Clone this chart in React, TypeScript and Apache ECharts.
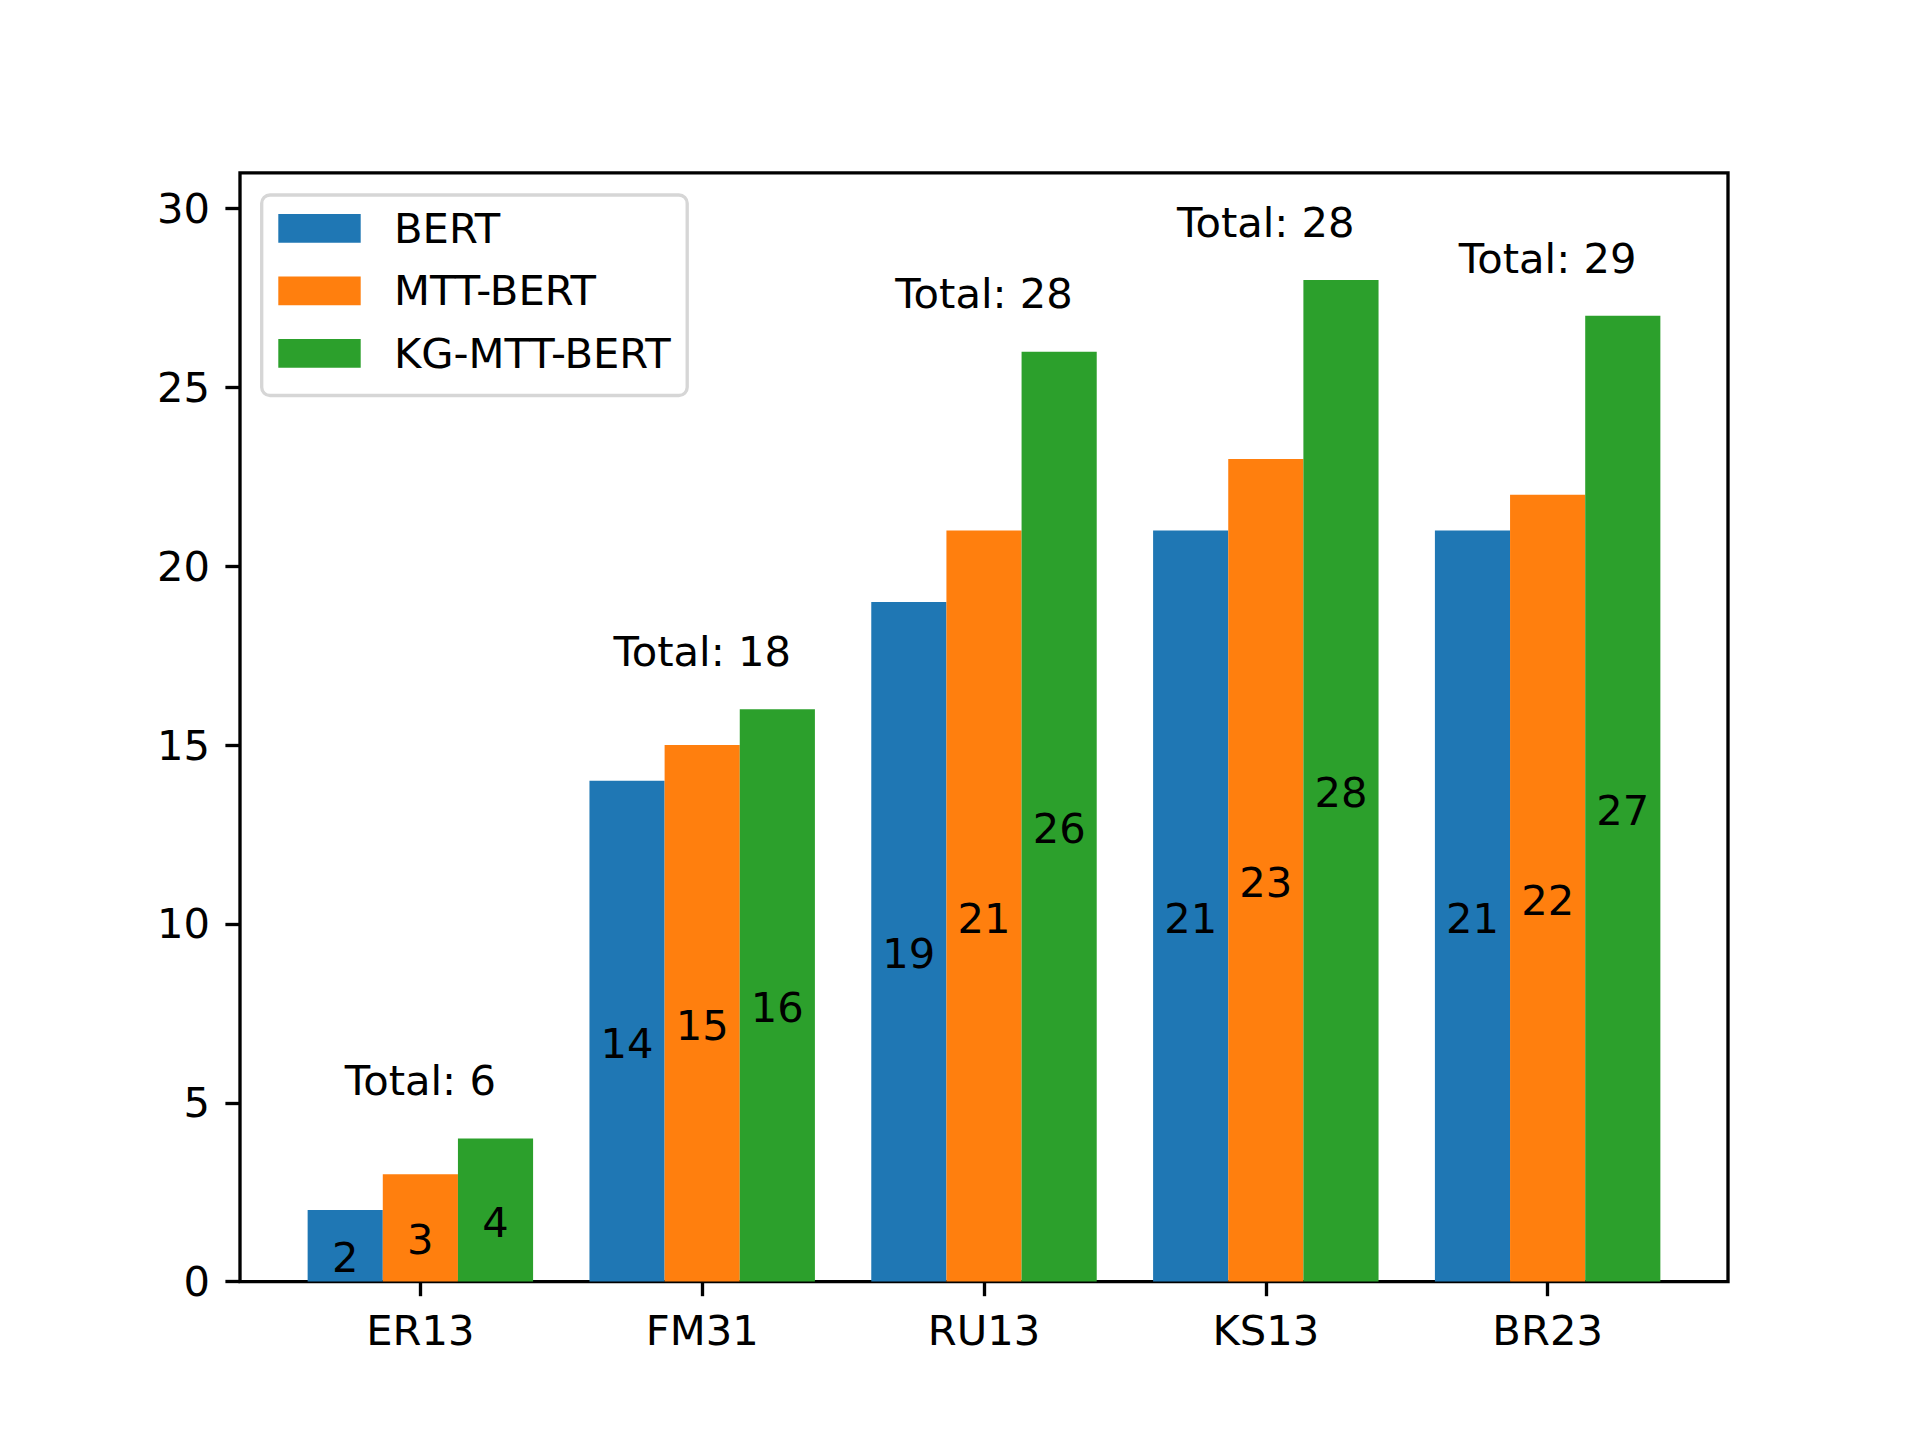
import React, { useEffect, useRef } from "react";
import * as echarts from "echarts";

const categories = ["ER13", "FM31", "RU13", "KS13", "BR23"];
const seriesNames = ["BERT", "MTT-BERT", "KG-MTT-BERT"];
const bertValues = [2, 14, 19, 21, 21];
const mttBertValues = [3, 15, 21, 23, 22];
const kgMttBertValues = [4, 16, 26, 28, 27];
const totals = [6, 18, 28, 28, 29];
const yTicks = [0, 5, 10, 15, 20, 25, 30];
const colors = ["#1f77b4", "#ff7f0e", "#2ca02c"];

const FONT = "DejaVu Sans";
const FS = 41.67;
const LW = 3.33;

export default function App() {
  const ref = useRef<HTMLDivElement>(null);
  useEffect(() => {
    if (!ref.current) return;
    const chart = echarts.init(ref.current, null, { renderer: "svg" });
    const groupWidth = 0.8;
    const barUnit = groupWidth / 3;
    const xMin = -0.64;
    const xMax = 4.64;
    const gridLeft = 240;
    const gridRight = 192;
    const gridW = 1920 - gridLeft - gridRight;
    const pxPerUnit = gridW / (xMax - xMin);
    const barWidth = barUnit * pxPerUnit;
    const allValues = [bertValues, mttBertValues, kgMttBertValues];

    const barSeries = allValues.map((vals, s) => ({
      name: seriesNames[s],
      type: "bar",
      barWidth,
      barGap: "-100%",
      itemStyle: { color: colors[s] },
      data: vals.map((v, i) => [i + (s - 1) * barUnit, v]),
      label: {
        show: true,
        position: "inside",
        offset: [0, 12],
        color: "#000",
        fontSize: FS,
        fontFamily: FONT,
        formatter: (p: any) => String(p.value[1]),
      },
      emphasis: { disabled: true },
    }));

    const totalData = categories.map((_, i) => [
      i,
      Math.max(bertValues[i], mttBertValues[i], kgMttBertValues[i]) + 1,
      totals[i],
    ]);

    const option: any = {
      animation: false,
      backgroundColor: "#fff",
      textStyle: { fontFamily: FONT },
      grid: {
        left: gridLeft,
        right: gridRight,
        top: 172.8,
        bottom: 158.4,
        show: true,
        borderColor: "#000",
        borderWidth: LW,
        backgroundColor: "transparent",
        containLabel: false,
      },
      xAxis: {
        type: "value",
        min: xMin,
        max: xMax,
        splitLine: { show: false },
        axisLine: { show: false, onZero: false },
        axisTick: {
          show: true,
          length: 14.6,
          customValues: [0, 1, 2, 3, 4],
          lineStyle: { color: "#000", width: LW },
        },
        axisLabel: {
          customValues: [0, 1, 2, 3, 4],
          formatter: (v: number) => categories[Math.round(v)] ?? "",
          color: "#000",
          fontSize: FS,
          fontFamily: FONT,
          margin: 28,
        },
      },
      yAxis: {
        type: "value",
        min: 0,
        max: 31,
        interval: 5,
        splitLine: { show: false },
        axisLine: { show: false, onZero: false },
        axisTick: {
          show: true,
          length: 14.6,
          customValues: yTicks,
          lineStyle: { color: "#000", width: LW },
        },
        axisLabel: {
          customValues: yTicks,
          color: "#000",
          fontSize: FS,
          fontFamily: FONT,
          margin: 30,
        },
      },
      legend: {
        data: seriesNames,
        orient: "vertical",
        left: 278.3,
        top: 207.4,
        padding: 0,
        z: 10,
        itemWidth: 82.4,
        itemHeight: 28.7,
        itemGap: 20.5,
        icon: "rect",
        selectedMode: false,
        textStyle: {
          color: "#000",
          fontSize: FS,
          fontFamily: FONT,
          padding: [0, 0, 0, 28.3],
        },
      },
      graphic: [
        {
          type: "rect",
          z: 1,
          shape: { x: 261.7, y: 195, width: 425.5, height: 200.5, r: 8.3 },
          style: { fill: "rgba(255,255,255,0.8)", stroke: "#d6d6d6", lineWidth: LW },
        },
      ],
      series: [
        ...barSeries,
        {
          type: "custom",
          name: "totals",
          data: totalData,
          z: 10,
          renderItem: (params: any, api: any) => {
            const pt = api.coord([api.value(0), api.value(1)]);
            return {
              type: "text",
              x: pt[0],
              y: pt[1] - 1,
              style: {
                text: "Total: " + api.value(2),
                fontSize: FS,
                fontFamily: FONT,
                fill: "#000",
                align: "center",
                verticalAlign: "bottom",
              },
            };
          },
        },
      ],
    };
    chart.setOption(option);
    return () => chart.dispose();
  }, []);
  return (
    <div
      ref={ref}
      style={{ position: "absolute", left: 0, top: 0, width: 1920, height: 1440 }}
    />
  );
}
